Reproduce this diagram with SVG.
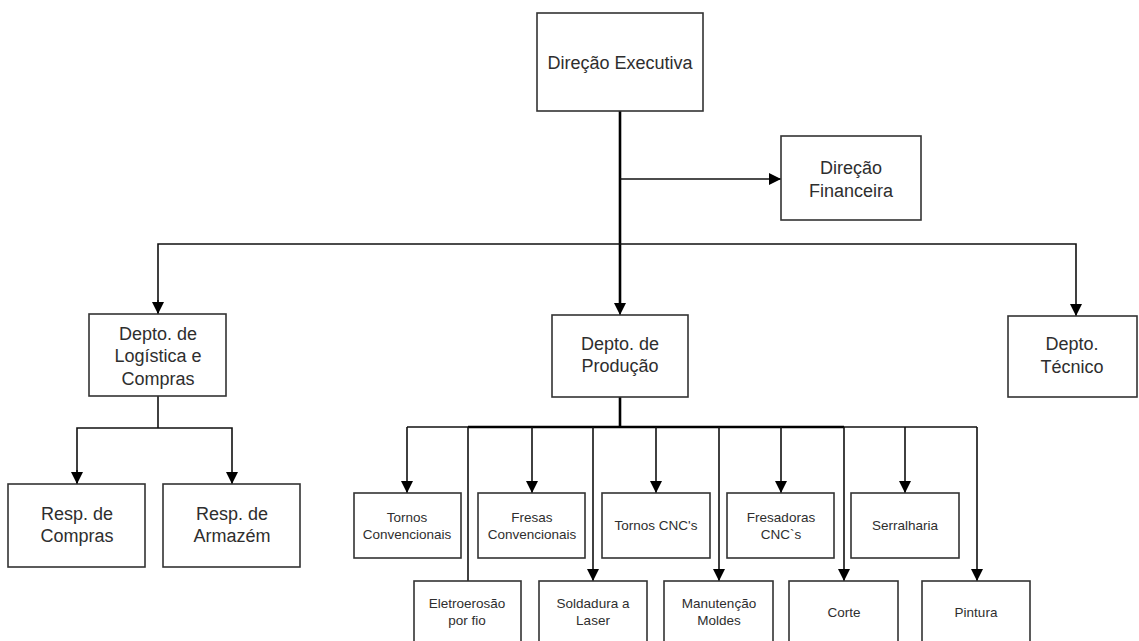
<svg xmlns="http://www.w3.org/2000/svg" width="1139" height="641" viewBox="0 0 1139 641">
  <style>
    .box { fill: #ffffff; stroke: #333333; stroke-width: 1.6; }
    .lbl { font-family: "Liberation Sans", Arial, sans-serif; font-size: 18px; fill: #2e2e2e; text-anchor: middle; }
    .sm { font-size: 13.5px; }
    .wire { fill: none; stroke: #111111; stroke-width: 1.6; }
    .trunk { fill: none; stroke: #000000; stroke-width: 2.6; }
  </style>
  <defs>
    <marker id="arrow" markerUnits="userSpaceOnUse" markerWidth="12" markerHeight="14" refX="12" refY="6" orient="auto">
      <path d="M0,0 L12,6 L0,12 Z" fill="#000000"/>
    </marker>
  </defs>
  <rect width="1139" height="641" fill="#ffffff"/>

  <g id="connectors">
    <!-- executive trunk -->
    <line class="trunk" x1="620" y1="111" x2="620" y2="303"/>
    <line class="wire" x1="620" y1="303" x2="620" y2="315" marker-end="url(#arrow)"/>
    <line class="wire" x1="620" y1="179" x2="781" y2="179" marker-end="url(#arrow)"/>
    <!-- department bus -->
    <polyline class="wire" points="158,314 158,244 1076,244 1076,316" marker-end="url(#arrow)"/>
    <line class="wire" x1="158" y1="300" x2="158" y2="314" marker-end="url(#arrow)"/>
    <!-- logistics children -->
    <line class="wire" x1="158" y1="396" x2="158" y2="428"/>
    <polyline class="wire" points="77,484 77,428 232,428 232,484" marker-end="url(#arrow)"/>
    <line class="wire" x1="77" y1="470" x2="77" y2="484" marker-end="url(#arrow)"/>
    <!-- production children -->
    <line class="trunk" x1="620" y1="397" x2="620" y2="427"/>
    <line class="wire" x1="407" y1="427" x2="977" y2="427"/>
    <line class="trunk" x1="468" y1="427" x2="844" y2="427"/>
    <line class="wire" x1="407" y1="427" x2="407" y2="493" marker-end="url(#arrow)"/>
    <line class="wire" x1="532" y1="427" x2="532" y2="493" marker-end="url(#arrow)"/>
    <line class="wire" x1="656" y1="427" x2="656" y2="493" marker-end="url(#arrow)"/>
    <line class="wire" x1="781" y1="427" x2="781" y2="493" marker-end="url(#arrow)"/>
    <line class="wire" x1="905" y1="427" x2="905" y2="493" marker-end="url(#arrow)"/>
    <line class="wire" x1="468" y1="427" x2="468" y2="581"/>
    <line class="wire" x1="593" y1="427" x2="593" y2="581" marker-end="url(#arrow)"/>
    <line class="wire" x1="719" y1="427" x2="719" y2="581" marker-end="url(#arrow)"/>
    <line class="wire" x1="844" y1="427" x2="844" y2="581" marker-end="url(#arrow)"/>
    <line class="wire" x1="977" y1="427" x2="977" y2="581" marker-end="url(#arrow)"/>
  </g>

  <g id="direcao-executiva">
    <rect class="box" x="537" y="13" width="166" height="98"/>
    <text class="lbl" x="620" y="68.5">Direção Executiva</text>
  </g>
  <g id="direcao-financeira">
    <rect class="box" x="781" y="136" width="140" height="84"/>
    <text class="lbl" x="851" y="173.5">Direção</text>
    <text class="lbl" x="851" y="196.5">Financeira</text>
  </g>
  <g id="depto-logistica">
    <rect class="box" x="89" y="314" width="137" height="82"/>
    <text class="lbl" x="158" y="339.5">Depto. de</text>
    <text class="lbl" x="158" y="362">Logística e</text>
    <text class="lbl" x="158" y="384.5">Compras</text>
  </g>
  <g id="depto-producao">
    <rect class="box" x="552" y="315" width="136" height="82"/>
    <text class="lbl" x="620" y="349.5">Depto. de</text>
    <text class="lbl" x="620" y="371.5">Produção</text>
  </g>
  <g id="depto-tecnico">
    <rect class="box" x="1008" y="316" width="129" height="81"/>
    <text class="lbl" x="1072" y="349.5">Depto.</text>
    <text class="lbl" x="1072" y="372.5">Técnico</text>
  </g>
  <g id="resp-compras">
    <rect class="box" x="8" y="484" width="137" height="83"/>
    <text class="lbl" x="77" y="519.5">Resp. de</text>
    <text class="lbl" x="77" y="541.5">Compras</text>
  </g>
  <g id="resp-armazem">
    <rect class="box" x="163" y="484" width="137" height="83"/>
    <text class="lbl" x="232" y="519.5">Resp. de</text>
    <text class="lbl" x="232" y="541.5">Armazém</text>
  </g>

  <g id="tornos-convencionais">
    <rect class="box" x="354" y="493" width="107" height="65"/>
    <text class="lbl sm" x="407" y="522">Tornos</text>
    <text class="lbl sm" x="407" y="539">Convencionais</text>
  </g>
  <g id="fresas-convencionais">
    <rect class="box" x="478" y="493" width="107" height="65"/>
    <text class="lbl sm" x="532" y="522">Fresas</text>
    <text class="lbl sm" x="532" y="539">Convencionais</text>
  </g>
  <g id="tornos-cnc">
    <rect class="box" x="602" y="493" width="108" height="65"/>
    <text class="lbl sm" x="656" y="530">Tornos CNC's</text>
  </g>
  <g id="fresadoras-cnc">
    <rect class="box" x="727" y="493" width="107" height="65"/>
    <text class="lbl sm" x="781" y="522">Fresadoras</text>
    <text class="lbl sm" x="781" y="539">CNC`s</text>
  </g>
  <g id="serralharia">
    <rect class="box" x="851" y="493" width="108" height="65"/>
    <text class="lbl sm" x="905" y="530">Serralharia</text>
  </g>

  <g id="eletroerosao">
    <rect class="box" x="414" y="581" width="107" height="70"/>
    <text class="lbl sm" x="467" y="608">Eletroerosão</text>
    <text class="lbl sm" x="467" y="625">por fio</text>
  </g>
  <g id="soldadura-laser">
    <rect class="box" x="539" y="581" width="108" height="70"/>
    <text class="lbl sm" x="593" y="608">Soldadura a</text>
    <text class="lbl sm" x="593" y="625">Laser</text>
  </g>
  <g id="manutencao-moldes">
    <rect class="box" x="664" y="581" width="109" height="70"/>
    <text class="lbl sm" x="719" y="608">Manutenção</text>
    <text class="lbl sm" x="719" y="625">Moldes</text>
  </g>
  <g id="corte">
    <rect class="box" x="789" y="581" width="109" height="70"/>
    <text class="lbl sm" x="844" y="617">Corte</text>
  </g>
  <g id="pintura">
    <rect class="box" x="922" y="581" width="108" height="70"/>
    <text class="lbl sm" x="976" y="617">Pintura</text>
  </g>
</svg>
